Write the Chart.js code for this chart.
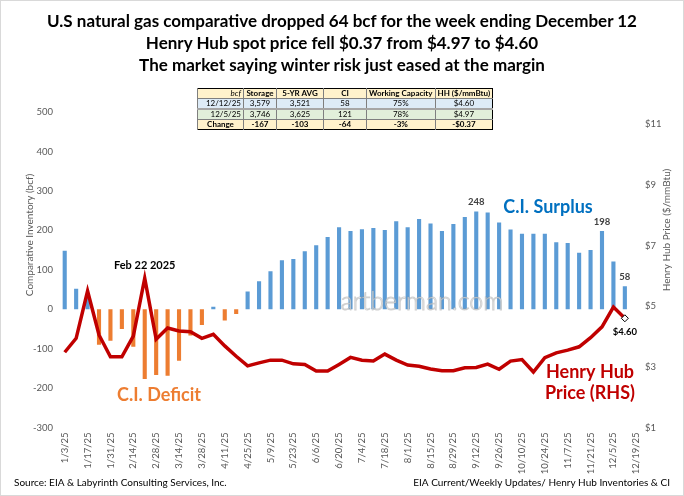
<!DOCTYPE html>
<html>
<head>
<meta charset="utf-8">
<script src="https://cdn.jsdelivr.net/npm/chart.js@4.4.1/dist/chart.umd.min.js"></script>
<style>
  html, body { margin: 0; padding: 0; background: #fff; }
  #wrap { position: relative; width: 684px; height: 496px; font-family: Lato, "Open Sans", sans-serif; }
  #wrap canvas { position: absolute; left: 0; top: 0; }
  #titles { position: absolute; left: 0; top: 10px; width: 684px; text-align: center; font-weight: bold; font-size: 17px; line-height: 22px; color: #000; }
  table.ci { position: absolute; left: 197px; top: 88px; border-collapse: collapse; font-size: 8px; border: 1.5px solid #000; }
  table.ci td { padding: 0 2px; height: 9px; line-height: 9px; border-left: 1px solid #7f7f7f; text-align: center; white-space: nowrap; }
  table.ci tr.hd td { background: #fff2cc; font-weight: bold; border-bottom: 1px solid #7f7f7f; }
  table.ci tr.r1 td { background: #ddebf7; border-bottom: 2px solid #a6a6a6; }
  table.ci tr.r2 td { background: #e2efda; border-bottom: 1px solid #7f7f7f; }
  table.ci tr.ch td { background: #fff2cc; font-weight: bold; }
  table.ci td.k { text-align: right; }
</style>
</head>
<body>
<div id="wrap">
  <canvas id="chart" width="684" height="496"></canvas>
  <div id="titles">
    <div>U.S natural gas comparative dropped 64 bcf for the week ending December 12</div>
    <div>Henry Hub spot price fell $0.37 from $4.97 to $4.60</div>
    <div>The market saying winter risk just eased at the margin</div>
  </div>
  <table class="ci">
    <colgroup><col style="width:46px"><col style="width:33px"><col style="width:47px"><col style="width:43px"><col style="width:58px"><col style="width:57px"></colgroup>
    <tr class="hd"><td class="k" style="font-weight:normal;font-style:italic">bcf</td><td>Storage</td><td>5-YR AVG</td><td>CI</td><td>Working Capacity</td><td>HH ($/mmBtu)</td></tr>
    <tr class="r1"><td class="k">12/12/25</td><td>3,579</td><td>3,521</td><td>58</td><td>75%</td><td>$4.60</td></tr>
    <tr class="r2"><td class="k">12/5/25</td><td>3,746</td><td>3,625</td><td>121</td><td>78%</td><td>$4.97</td></tr>
    <tr class="ch"><td>Change</td><td>-167</td><td>-103</td><td>-64</td><td>-3%</td><td>-$0.37</td></tr>
  </table>
</div>
<script>
// weekly report dates, last one (12/19) has no data yet
const weeks = [
  '1/3/25', '1/10/25', '1/17/25', '1/24/25', '1/31/25', '2/7/25', '2/14/25', '2/21/25', '2/28/25',
  '3/7/25', '3/14/25', '3/21/25', '3/28/25', '4/4/25', '4/11/25', '4/18/25', '4/25/25',
  '5/2/25', '5/9/25', '5/16/25', '5/23/25', '5/30/25', '6/6/25', '6/13/25', '6/20/25', '6/27/25',
  '7/4/25', '7/11/25', '7/18/25', '7/25/25', '8/1/25', '8/8/25', '8/15/25', '8/22/25', '8/29/25',
  '9/5/25', '9/12/25', '9/19/25', '9/26/25', '10/3/25', '10/10/25', '10/17/25', '10/24/25', '10/31/25',
  '11/7/25', '11/14/25', '11/21/25', '11/28/25', '12/5/25', '12/12/25', '12/19/25'
];

// comparative inventory, bcf (storage minus 5-yr avg)
const ciBcf = [
  148, 52, 28, -90, -80, -50, -95, -177, -167,
  -169, -131, -67, -40, 6, -29, -12, 45,
  71, 96, 124, 127, 147, 162, 183, 208, 198,
  203, 206, 201, 223, 208, 229, 217, 198, 216,
  234, 248, 245, 220, 202, 191, 191, 191, 170,
  168, 143, 150, 198, 121, 58, null
];

// Henry Hub spot, $/mmBtu
const hhPrice = [
  3.48, 3.94, 5.50, 4.05, 3.33, 3.33, 4.01, 5.92, 3.91,
  4.28, 4.18, 4.16, 3.94, 4.07, 3.69, 3.35, 3.03,
  3.13, 3.22, 3.22, 3.10, 3.08, 2.86, 2.86, 3.08, 3.31,
  3.22, 3.19, 3.42, 3.22, 3.06, 3.02, 2.93, 2.87, 2.87,
  2.97, 2.98, 3.09, 2.92, 3.19, 3.24, 2.83, 3.30, 3.46,
  3.55, 3.66, 3.96, 4.32, 4.97, 4.60, null
];

const leftTicks = [-300, -200, -100, 0, 100, 200, 300, 400, 500];
const rightTicks = [1, 3, 5, 7, 9, 11];

const BLUE = '#5b9bd5', ORANGE = '#ed7d31', RED = '#c00000';
const lastIdx = 49;

const extras = {
  id: 'extras',
  beforeDraw(chart) {
    const { ctx } = chart;
    ctx.save();
    ctx.strokeStyle = '#d9d9d9';
    ctx.lineWidth = 1;
    ctx.strokeRect(0.5, 0.5, chart.width - 1, chart.height - 1);
    ctx.restore();
  },
  afterDatasetsDraw(chart) {
    const { ctx, scales: { x, y, y1 } } = chart;
    ctx.save();
    ctx.textAlign = 'center';
    ctx.textBaseline = 'middle';

    // watermark
    ctx.font = '300 25px Lato, sans-serif';
    ctx.lineWidth = 1;
    ctx.strokeStyle = 'rgba(150,150,150,0.45)';
    ctx.fillStyle = 'rgba(255,255,255,0.75)';
    ctx.fillText('artberman.com', 422, 302);
    ctx.strokeText('artberman.com', 422, 302);

    // bar value labels
    ctx.fillStyle = '#404040';
    ctx.font = 'bold 9.5px Lato, sans-serif';
    [36, 47, 49].forEach(i => {
      ctx.fillText(String(ciBcf[i]), x.getPixelForValue(i), y.getPixelForValue(ciBcf[i]) - 9);
    });

    ctx.fillStyle = '#000';
    ctx.fillText('$' + hhPrice[lastIdx].toFixed(2), x.getPixelForValue(lastIdx), y1.getPixelForValue(hhPrice[lastIdx]) + 14);

    ctx.font = 'bold 11px Lato, sans-serif';
    ctx.fillText('Feb 22 2025', x.getPixelForValue(7), y1.getPixelForValue(hhPrice[7]) - 13);

    // series call-outs
    ctx.font = 'bold 18px Lato, sans-serif';
    ctx.fillStyle = '#0070c0';
    ctx.fillText('C.I. Surplus', 548, 207);
    ctx.fillStyle = ORANGE;
    ctx.fillText('C.I. Deficit', 159, 395);
    ctx.fillStyle = RED;
    ctx.fillText('Henry Hub', 590, 372);
    ctx.fillText('Price (RHS)', 590, 393);

    // axis titles
    ctx.fillStyle = '#595959';
    ctx.font = '10px Lato, sans-serif';
    ctx.translate(30, 235);
    ctx.rotate(-Math.PI / 2);
    ctx.fillText('Comparative Inventory (bcf)', 0, 0);
    ctx.rotate(Math.PI / 2);
    ctx.translate(-30, -235);
    ctx.translate(667, 230);
    ctx.rotate(-Math.PI / 2);
    ctx.fillText('Henry Hub Price ($/mmBtu)', 0, 0);
    ctx.restore();

    // footers
    ctx.save();
    ctx.fillStyle = '#000';
    ctx.font = '10px Lato, sans-serif';
    ctx.textBaseline = 'middle';
    ctx.textAlign = 'left';
    ctx.fillText('Source: EIA & Labyrinth Consulting Services, Inc.', 14, 483);
    ctx.textAlign = 'right';
    ctx.fillText('EIA Current/Weekly Updates/ Henry Hub Inventories & CI', 670, 483);
    ctx.restore();
  }
};

new Chart(document.getElementById('chart'), {
  type: 'bar',
  data: {
    labels: weeks,
    datasets: [
      {
        type: 'line',
        label: 'Henry Hub Price (RHS)',
        data: hhPrice,
        yAxisID: 'y1',
        borderColor: RED,
        borderWidth: 3.5,
        tension: 0,
        order: 0,
        pointRadius: hhPrice.map((v, i) => i === lastIdx ? 3.5 : 0),
        pointStyle: 'rectRot',
        pointBackgroundColor: '#fff',
        pointBorderColor: '#000',
        pointBorderWidth: 1
      },
      {
        label: 'Comparative Inventory',
        data: ciBcf,
        yAxisID: 'y',
        order: 1,
        backgroundColor: ciBcf.map(v => v < 0 ? ORANGE : BLUE),
        categoryPercentage: 1,
        barPercentage: 0.36
      }
    ]
  },
  options: {
    responsive: false,
    animation: false,
    layout: { padding: { top: 112, left: 0, right: 0, bottom: 0 } },
    plugins: { legend: { display: false }, tooltip: { enabled: false } },
    scales: {
      x: {
        grid: { display: false, drawTicks: false },
        border: { display: false },
        afterFit: (axis) => { axis.height = 68.5; },
        ticks: {
          autoSkip: false,
          minRotation: 90,
          maxRotation: 90,
          padding: 5,
          color: '#595959',
          font: { family: 'Lato', size: 9.5 },
          callback: (v, i) => i % 2 === 0 ? weeks[i] : ''
        }
      },
      y: {
        position: 'left',
        min: -300,
        max: 500,
        grid: { display: false, drawTicks: false },
        border: { display: false },
        afterFit: (axis) => { axis.width = 59; },
        afterBuildTicks: (axis) => { axis.ticks = leftTicks.map(value => ({ value })); },
        ticks: { padding: 6, color: '#595959', font: { family: 'Lato', size: 9.5 } }
      },
      y1: {
        position: 'right',
        min: 1,
        max: 11.4,
        grid: { display: false, drawTicks: false },
        border: { display: false },
        afterFit: (axis) => { axis.width = 42; },
        afterBuildTicks: (axis) => { axis.ticks = rightTicks.map(value => ({ value })); },
        ticks: { padding: 3, color: '#595959', font: { family: 'Lato', size: 9.5 }, callback: v => '$' + v }
      }
    }
  },
  plugins: [extras]
});
</script>
</body>
</html>
